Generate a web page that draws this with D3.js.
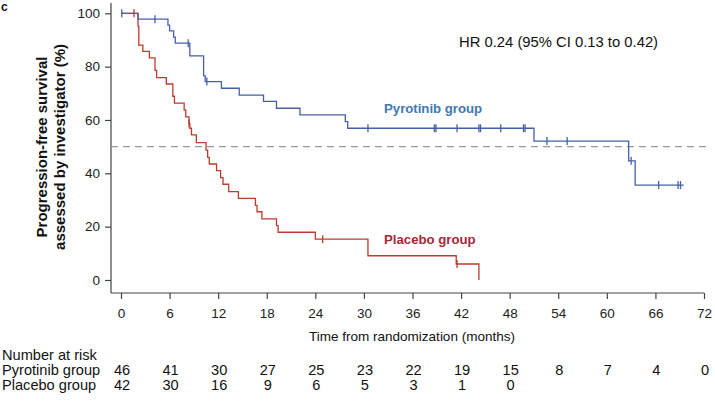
<!DOCTYPE html>
<html>
<head>
<meta charset="utf-8">
<script src="https://cdn.jsdelivr.net/npm/d3@7"></script>
<style>
	body { margin: 0; background: #fff; }
	svg { font-family: "Liberation Sans", Arial, sans-serif; }
	.axis text { font-size: 13.5px; fill: #222; }
	.axis line, .axis path { stroke: #444; stroke-width: 1.2; }
</style>
</head>
<body>
<svg id="chart" width="715" height="405"></svg>
<script>
// Kaplan-Meier steps: [months, % free of progression]
var pyroSteps = [
	[0, 100], [2.1, 97.8], [5.8, 95.6], [6.0, 93.4], [6.5, 91.1], [6.7, 88.8],
	[8.5, 84.0], [10.2, 76.5], [10.4, 74.4], [12.4, 71.9], [14.6, 69.3],
	[17.6, 67.0], [19.2, 64.4], [22.1, 61.9], [27.7, 59.4], [28.0, 56.9],
	[51.0, 52.1], [62.7, 44.7], [63.5, 35.6], [69.5, 35.6]
];
var pyroCensor = [0.1, 4.2, 8.3, 10.6, 30.5, 38.7, 38.9, 41.5, 44.2, 44.4, 46.9,
	49.7, 49.9, 52.6, 55.1, 63.0, 66.4, 68.8, 69.1];

var placeboSteps = [
	[0, 100], [2.1, 95.2], [2.2, 88.1], [2.7, 85.7], [3.5, 83.3], [4.2, 78.6],
	[4.4, 75.9], [5.6, 73.5], [6.4, 68.9], [6.6, 66.3], [7.8, 63.7], [8.0, 61.2],
	[8.4, 58.7], [8.5, 56.9], [8.7, 54.4], [9.3, 51.5], [10.5, 48.7], [10.7, 46.0],
	[10.9, 43.5], [11.8, 41.0], [12.3, 38.4], [12.6, 35.9], [13.3, 33.1],
	[14.5, 30.6], [16.6, 28.0], [16.8, 25.6], [17.4, 22.9], [19.2, 20.4],
	[19.4, 17.9], [24.0, 15.3], [30.5, 9.1], [41.4, 6.0], [44.2, 0]
];
var placeboCensor = [1.6, 8.4, 24.9, 41.5];

var riskTimes = [0, 6, 12, 18, 24, 30, 36, 42, 48, 54, 60, 66, 72];
var pyroRisk = [46, 41, 30, 27, 25, 23, 22, 19, 15, 8, 7, 4, 0];
var placeboRisk = [42, 30, 16, 9, 6, 5, 3, 1, 0];
var yTicks = [0, 20, 40, 60, 80, 100];

var blue = "#4560a8";
var red = "#bf3b2e";

var svg = d3.select("#chart");
var x = d3.scaleLinear().domain([0, 72]).range([121, 704]);
var y = d3.scaleLinear().domain([0, 100]).range([280, 13.3]);
var axisX = 111, axisY = 293;

// y axis
var gy = svg.append("g").attr("class", "axis")
	.attr("transform", "translate(" + axisX + ",0)")
	.call(d3.axisLeft(y).tickValues(yTicks).tickSize(6).tickPadding(5));
gy.select(".domain").remove();
gy.append("line").attr("x1", 0).attr("x2", 0).attr("y1", 3).attr("y2", axisY);

// x axis
var gx = svg.append("g").attr("class", "axis")
	.attr("transform", "translate(0," + axisY + ")")
	.call(d3.axisBottom(x).tickValues(riskTimes).tickSize(6).tickPadding(9));
gx.select(".domain").remove();
gx.append("line").attr("x1", axisX).attr("x2", x(72)).attr("y1", 0).attr("y2", 0);

// median reference
svg.append("line")
	.attr("x1", axisX).attr("x2", 706)
	.attr("y1", y(50)).attr("y2", y(50))
	.attr("stroke", "#999").attr("stroke-width", 1.2)
	.attr("stroke-dasharray", "7,5");

function stepValue(steps, t) {
	var v = steps[0][1];
	steps.forEach(function(d) { if (d[0] <= t) v = d[1]; });
	return v;
}

var line = d3.line()
	.x(function(d) { return x(d[0]); })
	.y(function(d) { return y(d[1]); })
	.curve(d3.curveStepAfter);

function drawCurve(steps, censor, color) {
	svg.append("path")
		.attr("d", line(steps))
		.attr("fill", "none")
		.attr("stroke", color)
		.attr("stroke-width", 1.3);
	svg.append("g").selectAll("line")
		.data(censor)
		.enter().append("line")
			.attr("x1", function(d) { return x(d); })
			.attr("x2", function(d) { return x(d); })
			.attr("y1", function(d) { return y(stepValue(steps, d)) - 4; })
			.attr("y2", function(d) { return y(stepValue(steps, d)) + 4; })
			.attr("stroke", color)
			.attr("stroke-width", 1.3);
}
drawCurve(placeboSteps, placeboCensor, red);
drawCurve(pyroSteps, pyroCensor, blue);

// annotations
svg.append("text").attr("x", 459).attr("y", 47)
	.attr("font-size", 14.8).attr("fill", "#111")
	.text("HR 0.24 (95% CI 0.13 to 0.42)");
svg.append("text").attr("x", 384).attr("y", 113)
	.attr("font-size", 13.2).attr("font-weight", "bold").attr("fill", "#4079b6")
	.text("Pyrotinib group");
svg.append("text").attr("x", 384).attr("y", 244)
	.attr("font-size", 13.2).attr("font-weight", "bold").attr("fill", "#a5283a")
	.text("Placebo group");
svg.append("text").attr("x", 1).attr("y", 11)
	.attr("font-size", 12).attr("font-weight", "bold").attr("fill", "#111")
	.text("c");

// axis titles
var yt = svg.append("text")
	.attr("transform", "translate(51,147) rotate(-90)")
	.attr("text-anchor", "middle")
	.attr("font-size", 15).attr("font-weight", "bold").attr("fill", "#111");
yt.append("tspan").attr("x", 0).attr("dy", "-0.3em").text("Progression-free survival");
yt.append("tspan").attr("x", 0).attr("dy", "1.2em").text("assessed by investigator (%)");

svg.append("text").attr("x", 412).attr("y", 341)
	.attr("text-anchor", "middle").attr("font-size", 13.5).attr("fill", "#111")
	.text("Time from randomization (months)");

// number at risk table
var table = svg.append("g").attr("font-size", 14.6).attr("fill", "#111");
table.append("text").attr("x", 2).attr("y", 360).text("Number at risk");
table.append("text").attr("x", 2).attr("y", 375).text("Pyrotinib group");
table.append("text").attr("x", 2).attr("y", 390).text("Placebo group");

table.append("g").selectAll("text")
	.data(pyroRisk)
	.enter().append("text")
		.attr("x", function(d, i) { return x(riskTimes[i]) + 1; })
		.attr("y", 375)
		.attr("text-anchor", "middle")
		.text(function(d) { return d; });
table.append("g").selectAll("text")
	.data(placeboRisk)
	.enter().append("text")
		.attr("x", function(d, i) { return x(riskTimes[i]) + 1; })
		.attr("y", 390)
		.attr("text-anchor", "middle")
		.text(function(d) { return d; });
</script>
</body>
</html>
